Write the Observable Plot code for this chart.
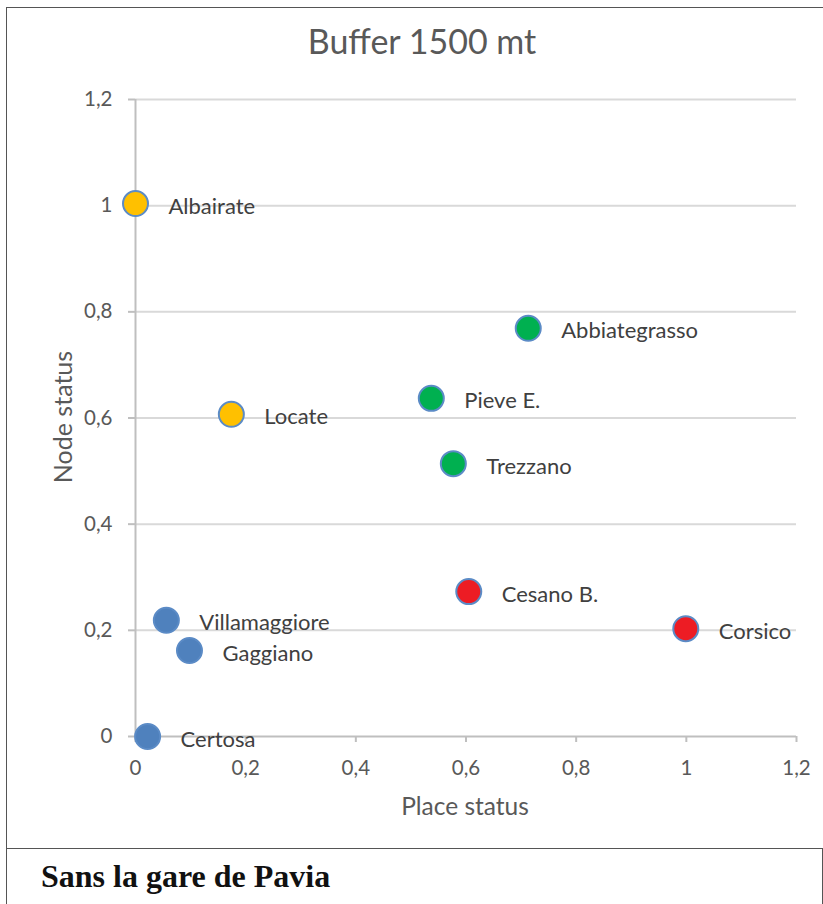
<!DOCTYPE html>
<html>
<head>
<meta charset="utf-8">
<script src="https://cdn.jsdelivr.net/npm/d3@7"></script>
<script src="https://cdn.jsdelivr.net/npm/@observablehq/plot@0.6"></script>
<style>
  html, body { margin: 0; padding: 0; background: #fff; width: 823px; height: 904px; overflow: hidden; }
  #frame { position: absolute; left: 6px; top: 7px; width: 840px; height: 840px; border-left: 1px solid #555; border-top: 1px solid #555; border-bottom: 1px solid #555; }
  #chart { position: absolute; left: 0; top: 0; }
  .t { position: absolute; font-family: Lato, "Open Sans", sans-serif; color: #595959; white-space: nowrap; line-height: 1; }
  #title { left: 422px; top: 24px; transform: translateX(-50%); font-size: 34px; }
  #xlab { left: 465px; top: 794px; transform: translateX(-50%); font-size: 24.5px; }
  #ylab { left: 62px; top: 417px; transform: translate(-50%, -50%) rotate(-90deg); font-size: 25px; }
  #capbox { position: absolute; left: 6px; top: 848px; width: 815px; height: 60px; border-left: 1px solid #555; border-right: 1px solid #555; }
  #caption { position: absolute; left: 34px; top: 12px; font-family: "Liberation Serif", "Times New Roman", serif; font-weight: bold; font-size: 32px; line-height: 1; color: #111; }
</style>
</head>
<body>
<div id="frame"></div>
<div id="chart"></div>
<div class="t" id="title">Buffer 1500 mt</div>
<div class="t" id="xlab">Place status</div>
<div class="t" id="ylab">Node status</div>
<div id="capbox"><div id="caption">Sans la gare de Pavia</div></div>
<script>
const names = ["Albairate", "Abbiategrasso", "Pieve E.", "Locate", "Trezzano", "Cesano B.", "Corsico", "Villamaggiore", "Gaggiano", "Certosa"];
const placeStatus = [0.0, 0.713, 0.537, 0.174, 0.577, 0.605, 0.999, 0.056, 0.098, 0.022];
const nodeStatus = [1.004, 0.769, 0.637, 0.607, 0.514, 0.273, 0.203, 0.219, 0.162, 0.0];
const groups = ["G1", "G2", "G2", "G1", "G2", "G3", "G3", "G4", "G4", "G4"];
const groupDomain = ["G1", "G2", "G3", "G4"];
const groupColors = ["#FFC000", "#00B050", "#ED1C24", "#4F81BD"];
const xTicks = [0, 0.2, 0.4, 0.6, 0.8, 1, 1.2];
const yTicks = [0, 0.2, 0.4, 0.6, 0.8, 1, 1.2];

const data = names.map((n, i) => ({name: n, x: placeStatus[i], y: nodeStatus[i], g: groups[i]}));
const fmt = d => String(d).replace(".", ",");
const font = "Lato, Open Sans, sans-serif";

const plot = Plot.plot({
  width: 823,
  height: 840,
  marginLeft: 135,
  marginRight: 27,
  marginTop: 99,
  marginBottom: 104,
  style: {fontFamily: font, background: "transparent"},
  x: {domain: [0, 1.2]},
  y: {domain: [0, 1.2]},
  color: {domain: groupDomain, range: groupColors},
  marks: [
    Plot.ruleY(yTicks.filter(d => d > 0), {stroke: "#d9d9d9", strokeWidth: 2}),
    Plot.ruleX([0], {y1: 0, y2: 1.2, stroke: "#bfbfbf", strokeWidth: 2}),
    Plot.ruleY([0], {x1: 0, x2: 1.2, stroke: "#bfbfbf", strokeWidth: 2}),
    Plot.axisX({ticks: xTicks, tickFormat: fmt, tickSize: 6, tickPadding: 18, stroke: "#bfbfbf", strokeWidth: 2, fill: "#595959", fontSize: 20.5, label: null}),
    Plot.axisY({ticks: yTicks, tickFormat: fmt, tickSize: 7, tickPadding: 16, stroke: "#bfbfbf", strokeWidth: 2, fill: "#595959", fontSize: 20.5, label: null}),
    Plot.dot(data, {x: "x", y: "y", r: 12.5, fill: {value: "g", scale: "color"}, stroke: "#5B8BC6", strokeWidth: 2}),
    Plot.text(data, {x: "x", y: "y", text: "name", dx: 33, dy: 3, textAnchor: "start", fill: "#404040", fontSize: 22})
  ]
});
document.getElementById("chart").appendChild(plot);
</script>
</body>
</html>
